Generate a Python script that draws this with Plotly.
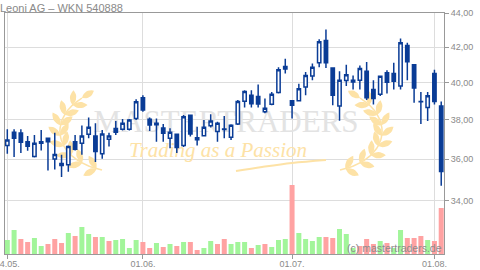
import numpy as np
import pandas as pd
import plotly.graph_objects as go

# ---------------- data ----------------
title_text = "Leoni AG – WKN 540888"
dates = pd.bdate_range("2011-05-04", "2011-08-02")
day_labels = [d.strftime("%d.%m.") for d in dates]

open_ = [36.69, 37.36, 37.32, 36.88, 36.13, 36.88, 37.05, 36.01, 35.79, 35.73,
         36.87, 36.80, 37.26, 37.17, 36.27, 37.00, 37.55, 37.51, 37.51, 38.07,
         39.18, 38.03, 37.83, 37.58, 37.05, 37.26, 36.69, 38.24, 37.08, 37.18,
         37.70, 37.40, 37.50, 37.10, 37.79, 38.99, 39.31, 39.24, 38.43, 38.83,
         39.46, 40.75, 39.02, 39.02, 39.76, 40.36, 41.11, 42.38, 40.81, 38.73,
         40.12, 40.13, 40.13, 40.63, 39.62, 39.36, 40.55, 40.50, 39.82, 42.10,
         41.00, 38.96, 38.66, 40.50, 38.73]
high = [37.52, 37.52, 37.52, 37.17, 37.22, 37.48, 37.06, 37.33, 36.22, 36.69,
        37.22, 37.71, 38.13, 37.83, 37.48, 37.34, 37.94, 38.05, 38.05, 39.10,
        39.31, 38.13, 38.07, 37.79, 37.57, 37.28, 38.26, 38.26, 37.65, 37.99,
        38.30, 37.91, 38.21, 37.77, 39.05, 39.58, 39.58, 39.90, 39.14, 39.49,
        40.86, 41.34, 39.03, 39.94, 40.59, 41.06, 42.46, 43.03, 40.86, 40.63,
        41.00, 40.40, 40.96, 41.15, 40.13, 40.40, 40.68, 41.11, 42.50, 42.26,
        41.02, 39.49, 39.49, 40.72, 38.98]
low = [36.27, 36.11, 36.31, 36.42, 36.09, 36.44, 35.44, 35.49, 35.13, 35.39,
       36.44, 36.22, 37.05, 35.86, 36.02, 36.64, 37.22, 37.45, 37.45, 38.00,
       38.43, 37.42, 36.88, 36.88, 36.55, 36.31, 36.61, 37.14, 36.69, 37.14,
       37.60, 36.88, 37.05, 36.97, 37.74, 38.66, 38.66, 38.66, 38.35, 38.78,
       39.40, 40.50, 38.07, 39.00, 39.31, 40.13, 40.86, 40.81, 38.78, 37.95,
       39.82, 39.62, 39.63, 39.05, 38.82, 39.27, 39.40, 39.63, 39.63, 40.13,
       38.91, 37.79, 37.94, 38.82, 34.71]
close = [36.97, 37.05, 36.85, 36.65, 36.80, 36.80, 36.87, 36.24, 35.69, 36.64,
         36.50, 37.17, 37.62, 36.39, 37.27, 37.17, 37.36, 37.83, 38.00, 38.96,
         38.52, 37.74, 37.75, 37.31, 37.36, 36.58, 38.17, 37.27, 36.98, 37.62,
         37.94, 37.83, 37.53, 37.72, 38.97, 39.51, 38.85, 38.84, 38.61, 39.37,
         40.72, 40.90, 38.78, 39.67, 40.40, 40.86, 42.32, 41.11, 39.31, 40.13,
         40.44, 40.04, 40.78, 39.18, 39.14, 40.35, 40.02, 40.08, 42.26, 41.17,
         39.71, 38.98, 39.28, 38.98, 35.40]
volume_k = [280, 480, 300, 240, 320, 160, 200, 300, 220, 420,
            360, 540, 400, 340, 340, 260, 280, 300, 120, 280,
            240, 120, 220, 140, 200, 160, 240, 240, 80, 120,
            260, 200, 300, 200, 240, 240, 120, 180, 200, 140,
            280, 300, 1380, 420, 300, 260, 340, 340, 320, 500,
            400, 120, 160, 300, 200, 260, 220, 120, 480, 320,
            320, 360, 280, 260, 920]
volume_up = [1, 1, 0, 0, 1, 1, 0, 0, 0, 1,
             0, 1, 1, 0, 1, 0, 1, 1, 1, 1,
             0, 0, 1, 0, 1, 0, 1, 0, 0, 1,
             1, 0, 0, 1, 1, 1, 0, 1, 0, 1,
             1, 1, 0, 1, 1, 1, 1, 0, 0, 1,
             1, 1, 0, 0, 0, 1, 0, 1, 1, 0,
             0, 0, 1, 0, 0]
price_ticks = [34, 36, 38, 40, 42, 44]
price_tick_text = ["34,00", "36,00", "38,00", "40,00", "42,00", "44,00"]
date_tick_labels = ["04.05.", "01.06.", "01.07.", "01.08."]

# ---------------- styles ----------------
W, H = 480, 270
X0, X1, Y0, Y1 = 5, 444, 13, 254          # plot area in page pixels
BLUE = "#0a3c96"
GREEN = "#a2f59a"
RED = "#ffa2a2"
GOLD = "#fde2a6"
GRID = "#dddddd"
AXIS = "#999999"
TXT = "#8a8a8a"

x_idx = list(range(len(dates)))
tick_pos = [day_labels.index(t) for t in date_tick_labels]


def bx(px):
    return (px - X0) / (X1 - X0)


def by(py):
    return (Y1 - py) / (Y1 - Y0)


def cubic(P, t):
    P = np.asarray(P, float)
    return ((1 - t) ** 3) * P[0] + 3 * ((1 - t) ** 2) * t * P[1] + 3 * (1 - t) * t * t * P[2] + t ** 3 * P[3]


def cubic_d(P, t):
    P = np.asarray(P, float)
    return 3 * ((1 - t) ** 2) * (P[1] - P[0]) + 6 * (1 - t) * t * (P[2] - P[1]) + 3 * t * t * (P[3] - P[2])


def leaf(base, ang, length, hw, n=9):
    d = np.array([np.cos(ang), np.sin(ang)])
    nr = np.array([-d[1], d[0]])
    u = np.linspace(0, 1, n)
    s1 = [base + d * length * v + nr * hw * np.sin(np.pi * v) ** 0.8 for v in u]
    s2 = [base + d * length * v - nr * hw * np.sin(np.pi * v) ** 0.8 for v in u[::-1]]
    return s1 + s2


def wreath(P):
    xs, ys = [], []
    for t in np.linspace(0.04, 0.9, 8):
        p = cubic(P, t)
        dv = cubic_d(P, t)
        a = np.arctan2(dv[1], dv[0])
        for s in (-1, 1):
            for q in leaf(p, a + s * 0.75, 15, 3.2):
                xs.append(bx(q[0])); ys.append(by(q[1]))
            xs.append(None); ys.append(None)
    p = cubic(P, 1.0)
    dv = cubic_d(P, 1.0)
    for q in leaf(p, np.arctan2(dv[1], dv[0]), 14, 3.2):
        xs.append(bx(q[0])); ys.append(by(q[1]))
    xs.append(None); ys.append(None)
    stem = [cubic(P, t) for t in np.linspace(0, 1, 30)]
    return xs, ys, [bx(q[0]) for q in stem], [by(q[1]) for q in stem]


fig = go.Figure()

# watermark (base subplot, drawn below everything)
left_P = [(102, 170), (55, 160), (46, 120), (82, 98)]
right_P = [(442 - x, y) for x, y in left_P]
for P in (left_P, right_P):
    lx, ly, sx, sy = wreath(P)
    fig.add_trace(go.Scatter(x=lx, y=ly, mode="lines", fill="toself", fillcolor=GOLD,
                             line=dict(width=0, color=GOLD), hoverinfo="skip",
                             showlegend=False, xaxis="x", yaxis="y"))
    fig.add_trace(go.Scatter(x=sx, y=sy, mode="lines", line=dict(width=1.5, color=GOLD),
                             hoverinfo="skip", showlegend=False, xaxis="x", yaxis="y"))

fig.add_trace(go.Scatter(x=[bx(226)], y=[by(124)], mode="text", text=["MASTERTRADERS"],
                         textposition="middle center",
                         textfont=dict(family="Liberation Serif", size=31, color="#e3e3e3"),
                         hoverinfo="skip", showlegend=False, xaxis="x", yaxis="y"))
fig.add_trace(go.Scatter(x=[bx(218)], y=[by(152)], mode="text", text=["Trading as a Passion"],
                         textposition="middle center",
                         textfont=dict(family="Liberation Serif", size=21, color=GOLD, style="italic"),
                         hoverinfo="skip", showlegend=False, xaxis="x", yaxis="y"))
sw = [(236, 171), (262, 167), (292, 163), (326, 160)]
fig.add_trace(go.Scatter(x=[bx(p[0]) for p in sw], y=[by(p[1]) for p in sw], mode="lines",
                         line=dict(width=2, color=GOLD, shape="spline"),
                         hoverinfo="skip", showlegend=False, xaxis="x", yaxis="y"))

# volume
fig.add_trace(go.Bar(x=x_idx, y=volume_k, marker=dict(color=[GREEN if u else RED for u in volume_up],
                                                      line=dict(width=0)),
                     hoverinfo="skip", showlegend=False, xaxis="x2", yaxis="y2"))

# candles
fig.add_trace(go.Candlestick(x=x_idx, open=open_, high=high, low=low, close=close,
                             increasing=dict(line=dict(color=BLUE, width=1.5), fillcolor="white"),
                             decreasing=dict(line=dict(color=BLUE, width=1.5), fillcolor=BLUE),
                             whiskerwidth=0, showlegend=False, xaxis="x2", yaxis="y3"))

vol_top = max(volume_k) * (Y1 - Y0) / 69.0

fig.update_layout(
    width=W, height=H,
    margin=dict(l=X0, r=W - X1, t=Y0, b=H - Y1, pad=0),
    paper_bgcolor="white", plot_bgcolor="white",
    font=dict(family="Liberation Sans", size=9, color=TXT),
    bargap=0.26,
    xaxis=dict(range=[0, 1], visible=False, fixedrange=True),
    yaxis=dict(range=[0, 1], visible=False, fixedrange=True),
    xaxis2=dict(overlaying="x", anchor="y3", side="bottom",
                range=[-0.34, len(dates) - 1 + 0.41],
                tickmode="array", tickvals=tick_pos, ticktext=date_tick_labels,
                showgrid=True, gridcolor=GRID, gridwidth=1, zeroline=False,
                showline=True, linecolor=AXIS, linewidth=1, mirror=True,
                ticks="outside", ticklen=4, tickcolor=AXIS,
                tickfont=dict(size=9, color=TXT), automargin=False,
                ticklabeloverflow="allow", ticklabelstandoff=-3,
                rangeslider=dict(visible=False)),
    yaxis2=dict(overlaying="y", anchor="x2", range=[0, vol_top], visible=False),
    yaxis3=dict(overlaying="y", anchor="x2", side="right", type="log",
                range=[np.log10(31.6), np.log10(44.02)],
                tickmode="array", tickvals=price_ticks, ticktext=price_tick_text,
                showgrid=True, gridcolor=GRID, gridwidth=1, zeroline=False,
                showline=True, linecolor=AXIS, linewidth=1, mirror=True,
                ticks="outside", ticklen=4, tickcolor=AXIS,
                tickfont=dict(size=9, color=TXT), automargin=False,
                ticklabeloverflow="allow"),
    annotations=[
        dict(text=title_text, xref="paper", yref="paper", x=bx(-2), y=by(7.5),
             xanchor="left", yanchor="middle", showarrow=False,
             font=dict(family="Liberation Sans", size=11, color=TXT)),
        dict(text="(c) mastertraders.de", xref="paper", yref="paper", x=bx(444), y=by(247.5),
             xanchor="right", yanchor="middle", showarrow=False,
             font=dict(family="Liberation Sans", size=10.5, color="#8c8c8c")),
    ],
)

fig.write_html("out.html")
